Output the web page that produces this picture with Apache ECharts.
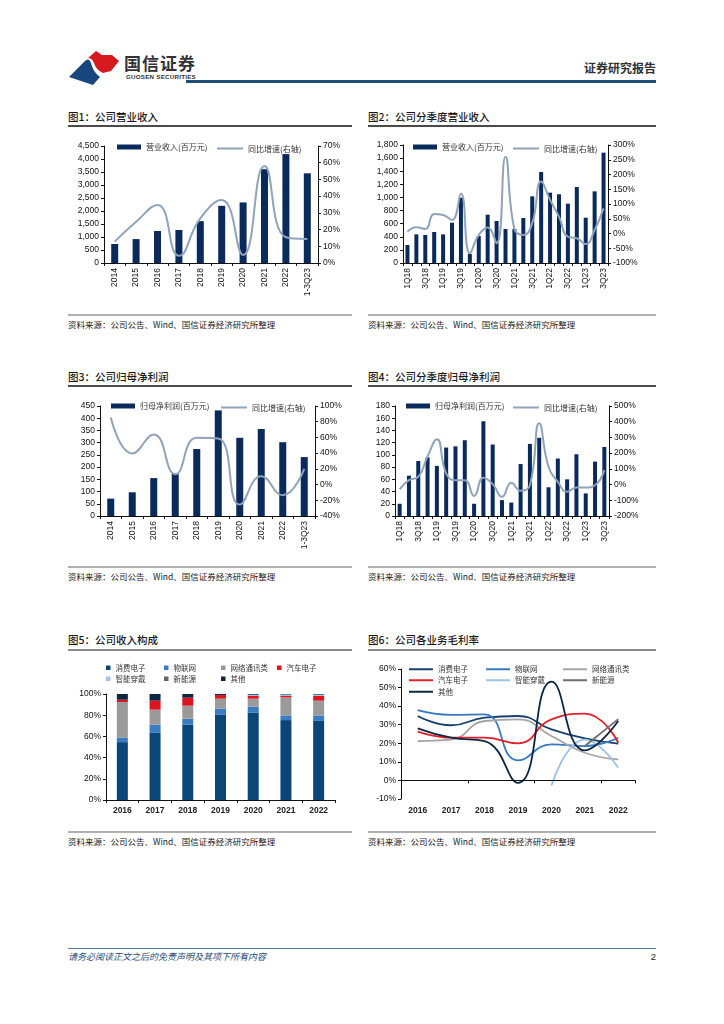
<!DOCTYPE html>
<html><head><meta charset="utf-8">
<script src="https://cdn.jsdelivr.net/npm/echarts@6/dist/echarts.min.js"></script>
<style>
body{margin:0;background:#fff;}
#page{position:relative;width:724px;height:1024px;overflow:hidden;font-family:"Noto Sans CJK SC",sans-serif;background:#fff;}
.t{position:absolute;white-space:nowrap;line-height:1;}
.title{font-size:10.5px;color:#1a1a1a;font-weight:500;}
.uline{position:absolute;height:1.5px;background:#4a4a4a;}
.sline{position:absolute;height:2px;background:#b0b0b0;}
.src{font-size:8.5px;color:#222;}
.chart{position:absolute;width:300px;height:180px;}
</style></head>
<body><div id="page">
<svg style="position:absolute;left:68px;top:50px" width="56" height="36" viewBox="0 0 56 36">
 <path d="M1,27 L17,11 Q21,7 23,13 Q25,22 32,27 L25,35 Z" fill="#17467c"/>
 <path d="M20,8 L28,1 L34,5 L44,5 L51,11 L43,21 L35,23 Q28,20 26,13 Q24,8 20,8 Z" fill="#d71920"/>
</svg>
<div class="t" style="left:124px;top:54px;font-size:17px;font-weight:700;color:#333;letter-spacing:1px">国信证券</div>
<div class="t" style="left:126px;top:74px;font-size:6.2px;font-weight:700;color:#333;letter-spacing:0.25px;font-family:'Liberation Sans',Arial,sans-serif">GUOSEN SECURITIES</div>
<div style="position:absolute;left:186px;top:80px;width:470px;height:2.5px;background:#1f4e79"></div>
<div class="t" style="right:68px;top:62px;font-size:12px;font-weight:700;color:#333">证券研究报告</div>

<div class="t title" style="left:68px;top:112px">图1：公司营业收入</div>
<div class="uline" style="left:68px;top:125px;width:284px"></div>
<div class="t title" style="left:368px;top:112px">图2：公司分季度营业收入</div>
<div class="uline" style="left:368px;top:125px;width:288px"></div>
<div class="sline" style="left:68px;top:314px;width:284px"></div>
<div class="sline" style="left:368px;top:314px;width:288px"></div>
<div class="t src" style="left:68px;top:320px">资料来源：公司公告、Wind、国信证券经济研究所整理</div>
<div class="t src" style="left:368px;top:320px">资料来源：公司公告、Wind、国信证券经济研究所整理</div>

<div class="t title" style="left:68px;top:372px">图3：公司归母净利润</div>
<div class="uline" style="left:68px;top:385px;width:284px"></div>
<div class="t title" style="left:368px;top:372px">图4：公司分季度归母净利润</div>
<div class="uline" style="left:368px;top:385px;width:288px"></div>
<div class="sline" style="left:68px;top:566px;width:284px"></div>
<div class="sline" style="left:368px;top:566px;width:288px"></div>
<div class="t src" style="left:68px;top:572px">资料来源：公司公告、Wind、国信证券经济研究所整理</div>
<div class="t src" style="left:368px;top:572px">资料来源：公司公告、Wind、国信证券经济研究所整理</div>

<div class="t title" style="left:68px;top:635px">图5：公司收入构成</div>
<div class="uline" style="left:68px;top:649px;width:284px;background:#8a8a8a"></div>
<div class="t title" style="left:368px;top:635px">图6：公司各业务毛利率</div>
<div class="uline" style="left:368px;top:649px;width:288px;background:#8a8a8a"></div>
<div class="sline" style="left:68px;top:831px;width:284px"></div>
<div class="sline" style="left:368px;top:831px;width:288px"></div>
<div class="t src" style="left:68px;top:837px">资料来源：公司公告、Wind、国信证券经济研究所整理</div>
<div class="t src" style="left:368px;top:837px">资料来源：公司公告、Wind、国信证券经济研究所整理</div>

<div style="position:absolute;left:68px;top:948px;width:588px;height:1px;background:#4a78a8"></div>
<div class="t" style="left:68px;top:952px;font-size:9px;font-style:italic;color:#1f4e79">请务必阅读正文之后的免责声明及其项下所有内容</div>
<div class="t" style="right:68px;top:952px;font-size:9.5px;color:#222;font-family:'Liberation Sans',Arial,sans-serif">2</div>

<div id="c1" class="chart" style="left:60px;top:130px"></div>
<div id="c2" class="chart" style="left:360px;top:130px"></div>
<div id="c3" class="chart" style="left:60px;top:390px"></div>
<div id="c4" class="chart" style="left:360px;top:390px"></div>
<div id="c5" class="chart" style="left:60px;top:650px"></div>
<div id="c6" class="chart" style="left:360px;top:650px"></div>
</div>
<script>
// ---------- data ----------
const yearCats = ['2014','2015','2016','2017','2018','2019','2020','2021','2022','1-3Q23'];
const revenue = [730, 920, 1230, 1270, 1610, 2200, 2330, 3610, 4190, 3450];
const revenueYoY = [12.8, 24.7, 34.7, 4.4, 26.7, 37.7, 4.8, 58, 15.4, 14.4];

const quarterCats = ['1Q18','2Q18','3Q18','4Q18','1Q19','2Q19','3Q19','4Q19','1Q20','2Q20','3Q20','4Q20',
  '1Q21','2Q21','3Q21','4Q21','1Q22','2Q22','3Q22','4Q22','1Q23','2Q23','3Q23'];
const qRevenue = [275,437,427,473,437,615,996,137,412,737,641,519,519,686,1017,1388,1073,1048,905,1159,691,1093,1683];
const qRevenueYoY = [6,21,15,66,63,46,136,-67,-5,20,-33,260,15,-5,35,176,114,57,-11,-16,-36,12,85];

const netProfit = [71,97,155,174,274,432,320,356,302,241];
const netProfitYoY = [85.5,39.6,63.8,13.2,59.6,58.7,-25.5,10.6,-13.6,20];

const qNetProfit = [20,66,90,96,82,112,114,124,20,155,117,26,22,85,118,128,47,94,60,101,37,89,113];
const qNetProfitYoY = [-31,28,49,180,288,71,28,28,-72,43,3,-78,11,-40,-4,390,113,17,-46,-19,-19,-4,92];

const mixYears = ['2016','2017','2018','2019','2020','2021','2022'];
const mixNames = ['消费电子','物联网','网络通讯类','汽车电子','智能穿戴','新能源','其他'];
const mixConsumer = [54.6,63.7,71.0,80.4,82.3,75.4,75.1];
const mixIoT = [4.4,7.3,5.7,5.7,5.7,4.4,4.7];
const mixNetwork = [33.4,14.2,12.3,9.5,7.6,17.0,13.9];
const mixAuto = [2.2,8.5,7.5,3.4,2.5,1.3,4.4];
const mixWearable = [0,0,0,0,1.2,1.2,0.9];
const mixNewEnergy = [0,0,0,0,0,0.3,0.6];
const mixOther = [5.4,6.3,3.5,1.0,0.7,0.4,0.4];

const gmConsumer = [34.7,29.7,33.8,34.7,27.5,22.7,19.8];
const gmIoT = [37.8,35.3,35.6,10.8,19.4,18.5,23.0];
const gmNetwork = [21.2,22.0,32.0,32.9,23.9,14.9,11.3];
const gmAuto = [26.3,23.0,23.0,20.0,32.9,36.0,20.3];
const gmWearable = [null,null,null,null,-2.7,22.0,6.8];
const gmNewEnergy = [null,null,null,null,null,18.5,33.0];
const gmOther = [28.0,23.0,21.2,-1.3,53.2,16.2,32.0];

// ---------- styles ----------
const NUM = '"Liberation Sans", Arial, sans-serif';
const CJK = '"Noto Sans CJK SC", sans-serif';
const NAVY = '#0a2a5c';
const LINEC = '#8fa3b9';
const AX = '#111';

function legendItem(name, left, top, extra) {
  return Object.assign({
    left: left, top: top, padding: 0, itemGap: 0, selectedMode: false,
    data: [name],
    textStyle: {fontSize: 8, color: '#333', fontFamily: CJK}
  }, extra || {});
}

function valueAxis(min, max, interval, fmt, pos) {
  return {
    type: 'value', min: min, max: max, interval: interval, position: pos || 'left',
    axisLine: {show: true, onZero: false, lineStyle: {color: AX, width: 1}},
    axisTick: {show: true, length: 3, lineStyle: {color: AX}},
    splitLine: {show: false},
    axisLabel: {fontSize: 8.5, color: AX, margin: 5, fontFamily: NUM, formatter: fmt}
  };
}
const commaFmt = v => v.toLocaleString('en-US');
const pctFmt = v => v + '%';

function combo(cfg) {
  return {
    animation: false,
    grid: {left: cfg.gl, top: cfg.gt, width: cfg.gw, height: cfg.gh, outerBoundsMode: 'none', containLabel: false},
    legend: [
      legendItem({name: cfg.barName, icon: 'rect'}, cfg.lb, cfg.lt, {itemWidth: 24, itemHeight: 5}),
      legendItem({name: cfg.lineName, icon: 'rect'}, cfg.ll, cfg.lt + 1.5, {itemWidth: 26, itemHeight: 2})
    ],
    xAxis: {
      type: 'category', data: cfg.cats,
      axisLine: {lineStyle: {color: AX, width: 1}},
      axisTick: {show: true, interval: 0, length: 3, lineStyle: {color: AX}},
      axisLabel: {rotate: 90, fontSize: 8.5, color: AX, interval: cfg.labInt, margin: 5, fontFamily: NUM}
    },
    yAxis: [
      valueAxis(cfg.lmin, cfg.lmax, cfg.lint, commaFmt, 'left'),
      valueAxis(cfg.rmin, cfg.rmax, cfg.rint, pctFmt, 'right')
    ],
    series: [
      {type: 'bar', name: cfg.barName, data: cfg.bars, barWidth: cfg.bw, itemStyle: {color: NAVY}},
      {type: 'line', name: cfg.lineName, yAxisIndex: 1, data: cfg.line, smooth: true, symbol: 'none',
       showSymbol: false, lineStyle: {color: LINEC, width: 2}, itemStyle: {color: LINEC}}
    ]
  };
}

echarts.init(document.getElementById('c1')).setOption(combo({
  gl: 44, gt: 16, gw: 214, gh: 117, cats: yearCats, labInt: 0,
  barName: '营业收入(百万元)', lineName: '同比增速(右轴)', lb: 57, ll: 157, lt: 13,
  lmin: 0, lmax: 4500, lint: 500, rmin: 0, rmax: 70, rint: 10,
  bars: revenue, line: revenueYoY, bw: 7
}));
echarts.init(document.getElementById('c2')).setOption(combo({
  gl: 43, gt: 15, gw: 205, gh: 118, cats: quarterCats, labInt: 1,
  barName: '营业收入(百万元)', lineName: '同比增速(右轴)', lb: 53, ll: 153, lt: 13,
  lmin: 0, lmax: 1800, lint: 200, rmin: -100, rmax: 300, rint: 50,
  bars: qRevenue, line: qRevenueYoY, bw: 4
}));
echarts.init(document.getElementById('c3')).setOption(combo({
  gl: 40, gt: 16, gw: 215, gh: 110, cats: yearCats, labInt: 0,
  barName: '归母净利润(百万元)', lineName: '同比增速(右轴)', lb: 51, ll: 161, lt: 12,
  lmin: 0, lmax: 450, lint: 50, rmin: -40, rmax: 100, rint: 20,
  bars: netProfit, line: netProfitYoY, bw: 7
}));
echarts.init(document.getElementById('c4')).setOption(combo({
  gl: 35, gt: 16, gw: 214, gh: 110, cats: quarterCats, labInt: 1,
  barName: '归母净利润(百万元)', lineName: '同比增速(右轴)', lb: 46, ll: 153, lt: 12,
  lmin: 0, lmax: 180, lint: 20, rmin: -200, rmax: 500, rint: 100,
  bars: qNetProfit, line: qNetProfitYoY, bw: 4
}));

// ---------- chart 5 ----------
const mixColors = ['#0b4679','#3a7cc1','#9a9a9a','#e0141e','#9dc3e6','#666666','#0e2841'];
const mixData = [mixConsumer, mixIoT, mixNetwork, mixAuto, mixWearable, mixNewEnergy, mixOther];
const legCols5 = [46, 104, 161, 217];
const legRows5 = [14, 25];
echarts.init(document.getElementById('c5')).setOption({
  animation: false,
  grid: {left: 46, top: 44, width: 229, height: 106, outerBoundsMode: 'none'},
  legend: mixNames.map((n, i) => legendItem({name: n, icon: 'rect'}, legCols5[i % 4], legRows5[Math.floor(i / 4)],
    {itemWidth: 4.5, itemHeight: 4.5, textStyle: {fontSize: 7.5, color: '#333', fontFamily: CJK}})),
  xAxis: {
    type: 'category', data: mixYears,
    axisLine: {lineStyle: {color: AX}},
    axisTick: {show: true, length: 3, lineStyle: {color: AX}},
    axisLabel: {fontSize: 8.5, fontWeight: 'bold', color: '#222', margin: 6, fontFamily: NUM}
  },
  yAxis: valueAxis(0, 100, 20, pctFmt, 'left'),
  series: mixNames.map((n, i) => ({
    type: 'bar', name: n, stack: 'mix', data: mixData[i], barWidth: 11,
    itemStyle: {color: mixColors[i]}
  }))
});
// ---------- chart 6 ----------
const gmColors = ['#17406d','#3878be','#a5a5a5','#e3202a','#9dc3e6','#6e6e6e','#0e2841'];
const gmData = [gmConsumer, gmIoT, gmNetwork, gmAuto, gmWearable, gmNewEnergy, gmOther];
const legCols6 = [49, 126, 203];
const legRows6 = [14, 25, 36.5];
const y6 = valueAxis(-10, 60, 10, pctFmt, 'left');
const gmSeries = mixNames.map((n, i) => ({
  type: 'line', name: n, data: gmData[i], smooth: true, symbol: 'none', showSymbol: false,
  connectNulls: false, lineStyle: {color: gmColors[i], width: 1.8}, itemStyle: {color: gmColors[i]}
}));
gmSeries[0].markLine = {silent: true, symbol: 'none', label: {show: false},
  lineStyle: {color: AX, width: 1, type: 'solid'}, data: [{yAxis: 0}]};
echarts.init(document.getElementById('c6')).setOption({
  animation: false,
  grid: {left: 41, top: 19, width: 234, height: 130, outerBoundsMode: 'none'},
  legend: mixNames.map((n, i) => legendItem({name: n, icon: 'rect'}, legCols6[i % 3], legRows6[Math.floor(i / 3)] + 1.5,
    {itemWidth: 24, itemHeight: 2, textStyle: {fontSize: 7.5, color: '#333', fontFamily: CJK}})),
  xAxis: [
    {type: 'category', data: mixYears, position: 'bottom',
     axisLine: {show: false, onZero: false}, axisTick: {show: false},
     axisLabel: {fontSize: 8.5, fontWeight: 'bold', color: '#222', margin: 7, fontFamily: NUM}},
    {type: 'category', data: mixYears, position: 'bottom',
     axisLine: {show: true, onZero: true, lineStyle: {color: AX}},
     axisTick: {show: true, length: 3, lineStyle: {color: AX}},
     axisLabel: {show: false}}
  ],
  yAxis: y6,
  series: gmSeries
});
</script>
</body></html>
